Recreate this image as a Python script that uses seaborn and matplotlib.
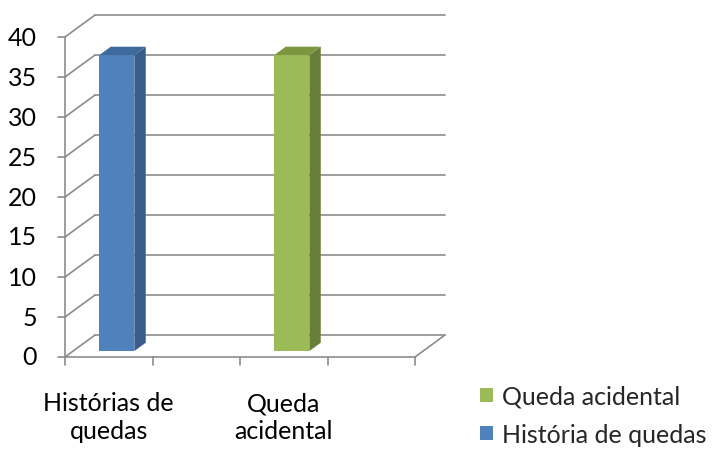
import matplotlib
matplotlib.use("Agg")
import matplotlib.pyplot as plt
from matplotlib.patches import Polygon, Patch
import seaborn as sns
import pandas as pd

# chart data
categories = ["Histórias de\nquedas", "", "Queda\nacidental", ""]
series = ["História de quedas", "Queda acidental"]
series_slot = [0, 2]
values = [37, 37]
y_ticks = [0, 5, 10, 15, 20, 25, 30, 35, 40]

front_colors = ["#4F81BD", "#9BBB59"]
side_colors = ["#385D8A", "#687F3A"]
top_colors = ["#3F6A9E", "#7A963F"]

sns.set_theme(style="white")
plt.rcParams["font.family"] = ["Lato", "DejaVu Sans"]

W, H, DPI = 712, 452, 100
fig = plt.figure(figsize=(W / DPI, H / DPI), dpi=DPI)
ax = fig.add_axes([0, 0, 1, 1])

# data <-> pixel mapping: one category slot = 87.5 px, one unit = 8 px
px_x0, px_slot, px_y0, px_unit = 65, 87.5, 358, 8
ax.set_xlim(-px_x0 / px_slot, (W - px_x0) / px_slot)
ax.set_ylim(-(H - px_y0) / px_unit, px_y0 / px_unit)
ax.axis("off")

DX = 30 / px_slot      # depth offset along x
DY = 22 / px_unit      # depth offset along y
n_slots = len(categories)
grid_c = "#8C8C8C"
lw = 1.2
fs = 18

# back wall gridlines and side-wall diagonals
for v in y_ticks:
    ax.plot([DX, n_slots + DX], [v + DY, v + DY], color=grid_c, lw=lw, zorder=1)
    ax.plot([0, DX], [v, v + DY], color=grid_c, lw=lw, zorder=1)
    ax.plot([-0.08, 0], [v, v], color=grid_c, lw=lw, zorder=1)
    ax.text(-0.32, v, str(v), ha="right", va="center", fontsize=fs, color="black")

# front vertical axis and floor
ax.plot([0, 0], [0, y_ticks[-1]], color=grid_c, lw=lw, zorder=1)
ax.plot([0, n_slots], [0, 0], color=grid_c, lw=lw, zorder=1)
ax.plot([n_slots, n_slots + DX], [0, DY], color=grid_c, lw=lw, zorder=1)
for i in range(n_slots + 1):
    ax.plot([i, i], [0, -1.0], color=grid_c, lw=lw, zorder=1)

# category labels
for i, lab in enumerate(categories):
    if lab:
        ax.text(i + 0.5, -4.3, lab, ha="center", va="top", fontsize=fs,
                linespacing=1.25, color="black")

# bars: front faces drawn at mid depth, with top and side faces
f_front, f_back = 0.27, 0.65
bw = 0.4
df = pd.DataFrame({
    "x": [s + 0.5 + f_front * DX for s in series_slot],
    "value": values,
    "series": series,
})
sns.barplot(data=df, x="x", y="value", hue="series", native_scale=True,
            palette=dict(zip(series, front_colors)), saturation=1, width=bw / 2,
            dodge=False, bottom=f_front * DY, errorbar=None,
            linewidth=0, legend=False, zorder=3, ax=ax)

ddx = (f_back - f_front) * DX
ddy = (f_back - f_front) * DY
for s, v, sc, tc in zip(series_slot, values, side_colors, top_colors):
    xl = s + 0.5 + f_front * DX - bw / 2
    xr = xl + bw
    yb = f_front * DY
    yt = yb + v
    ax.add_patch(Polygon([(xr, yb), (xr + ddx, yb + ddy), (xr + ddx, yt + ddy), (xr, yt)],
                         closed=True, facecolor=sc, edgecolor="none", zorder=3))
    ax.add_patch(Polygon([(xl, yt), (xl + ddx, yt + ddy), (xr + ddx, yt + ddy), (xr, yt)],
                         closed=True, facecolor=tc, edgecolor="none", zorder=3))

# legend
handles = [Patch(facecolor=c, edgecolor="none", label=s)
           for s, c in zip(series, front_colors)][::-1]
ax.legend(handles=handles, loc="upper left", bbox_to_anchor=(470 / W, 1 - 376 / H),
          frameon=False, fontsize=fs, handlelength=0.5, handleheight=0.5,
          handletextpad=0.4, labelspacing=0.6, borderaxespad=0)

fig.savefig("out.png", dpi=DPI)
